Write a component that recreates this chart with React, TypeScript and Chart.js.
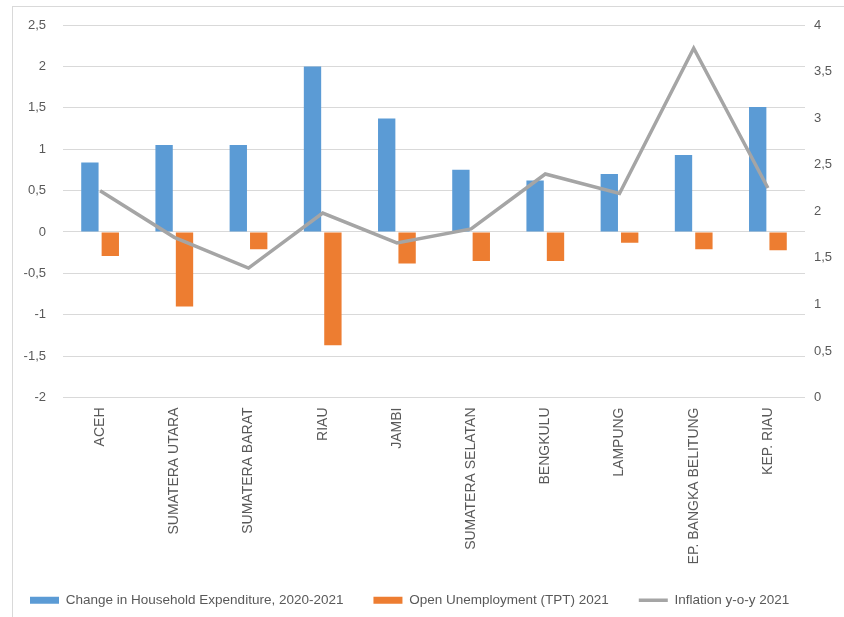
import React, { useEffect, useRef } from "react";
import { Chart, registerables } from "chart.js";

Chart.register(...registerables);

const categories = [
  "ACEH",
  "SUMATERA UTARA",
  "SUMATERA BARAT",
  "RIAU",
  "JAMBI",
  "SUMATERA SELATAN",
  "BENGKULU",
  "LAMPUNG",
  "KEP. BANGKA BELITUNG",
  "KEP. RIAU",
];

const householdExpenditure = [0.84, 1.05, 1.05, 2.0, 1.37, 0.75, 0.62, 0.7, 0.93, 1.51];
const openUnemployment = [-0.29, -0.9, -0.21, -1.37, -0.38, -0.35, -0.35, -0.13, -0.21, -0.22];
const inflation = [2.22, 1.72, 1.39, 1.98, 1.66, 1.81, 2.4, 2.19, 3.75, 2.25];

const seriesNames = [
  "Change in Household Expenditure, 2020-2021",
  "Open Unemployment (TPT) 2021",
  "Inflation y-o-y 2021",
];

const fmt = (v: number | string) => String(v).replace(".", ",");

const frame = {
  id: "frame",
  beforeDraw(chart: any) {
    const ctx = chart.ctx;
    ctx.save();
    ctx.fillStyle = "#ffffff";
    ctx.fillRect(0, 0, chart.width, chart.height);
    ctx.strokeStyle = "#d9d9d9";
    ctx.lineWidth = 1;
    ctx.strokeRect(12.5, 6.5, 1000, 1000);
    ctx.restore();
  },
};

export default function App() {
  const ref = useRef<HTMLCanvasElement>(null);
  useEffect(() => {
    if (!ref.current) return;
    const family = "'Liberation Sans', Arial, sans-serif";
    const tickFont = { family, size: 13 };
    const chart = new Chart(ref.current, {
      type: "bar",
      data: {
        labels: categories,
        datasets: [
          {
            type: "bar",
            label: seriesNames[0],
            data: householdExpenditure,
            backgroundColor: "#5b9bd5",
            yAxisID: "y",
            order: 1,
            categoryPercentage: 0.55,
            barPercentage: 0.85,
          },
          {
            type: "bar",
            label: seriesNames[1],
            data: openUnemployment,
            backgroundColor: "#ed7d31",
            yAxisID: "y",
            order: 1,
            categoryPercentage: 0.55,
            barPercentage: 0.85,
          },
          {
            type: "line",
            label: seriesNames[2],
            data: inflation,
            borderColor: "#a5a5a5",
            backgroundColor: "#a5a5a5",
            borderWidth: 3.5,
            pointRadius: 0,
            yAxisID: "y1",
            order: 0,
            tension: 0,
          },
        ] as any,
      },
      plugins: [frame],
      options: {
        animation: false,
        responsive: false,
        layout: { padding: { top: 25, left: 0, right: 0, bottom: 0 } },
        plugins: {
          tooltip: { enabled: false },
          legend: {
            position: "bottom",
            align: "start",
            labels: {
              sort: (a: any, b: any) => a.datasetIndex - b.datasetIndex,
              usePointStyle: true,
              pointStyleWidth: 29,
              boxWidth: 29,
              boxHeight: 7,
              padding: 30,
              color: "#595959",
              font: { family, size: 13.5 },
              generateLabels: (c: any) => {
                const items = Chart.defaults.plugins.legend.labels.generateLabels(c);
                return items.map((it: any) => {
                  const isLine = c.data.datasets[it.datasetIndex].type === "line";
                  return {
                    ...it,
                    pointStyle: isLine ? "line" : "rect",
                    lineWidth: isLine ? 3.5 : 0,
                    strokeStyle: isLine ? "#a5a5a5" : it.fillStyle,
                  };
                });
              },
            },
          },
        },
        scales: {
          x: {
            grid: { display: false, drawTicks: false },
            border: { display: false },
            ticks: {
              color: "#595959",
              font: { family, size: 14 },
              minRotation: 90,
              maxRotation: 90,
              autoSkip: false,
              padding: 10,
            },
            afterFit: (s: any) => {
              s.height = 166;
            },
          },
          y: {
            position: "left",
            min: -2,
            max: 2.5,
            grid: { color: "#d9d9d9", drawTicks: false },
            border: { display: false },
            ticks: {
              stepSize: 0.5,
              color: "#595959",
              font: tickFont,
              padding: 17,
              callback: (v: any) => fmt(v),
            },
            afterFit: (s: any) => {
              s.width = 63;
            },
          },
          y1: {
            position: "right",
            min: 0,
            max: 4,
            grid: { display: false, drawTicks: false },
            border: { display: false },
            ticks: {
              stepSize: 0.5,
              color: "#595959",
              font: tickFont,
              padding: 9,
              callback: (v: any) => fmt(v),
            },
            afterFit: (s: any) => {
              s.width = 39;
            },
          },
        },
      } as any,
    });
    return () => chart.destroy();
  }, []);
  return (
    <div style={{ position: "absolute", left: 0, top: 0, width: 844, height: 617 }}>
      <canvas ref={ref} width={844} height={617} />
    </div>
  );
}
